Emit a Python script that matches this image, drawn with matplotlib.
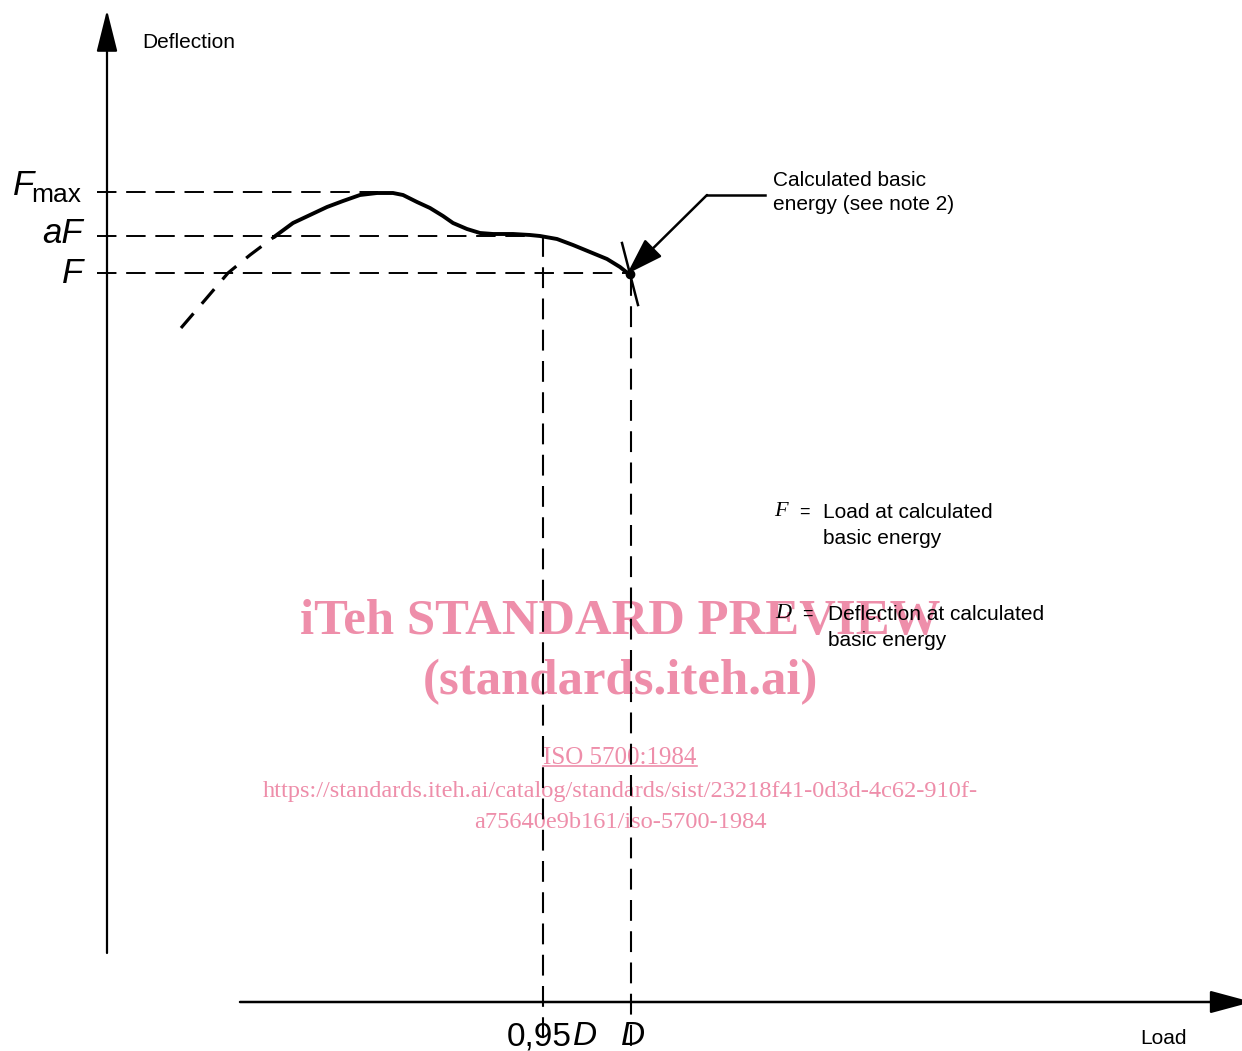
import matplotlib
matplotlib.use("Agg")
import matplotlib.pyplot as plt

# coordinates (x to the right, y downwards, in pixels)
dash_x = [181, 205, 228, 250, 274]
dash_y = [328, 300, 273, 255, 237]
curve_x = [274, 293, 310, 327, 343, 360, 377, 393, 403, 417, 430, 443, 453,
           467, 480, 493, 513, 530, 540, 557, 573, 590, 607, 620, 630]
curve_y = [237, 223, 215, 207, 201, 195, 193, 193, 195, 202, 208, 216, 223,
           229, 233, 234, 234, 235, 236, 239, 245, 252, 259, 267, 275]

# levels on the vertical axis: Fmax, aF, F
levels_y = [192, 236, 273]
levels_end = [378, 543, 631]
# positions on the horizontal axis: 0,95D and D
marks_x = [543, 631]
marks_top = [236, 275]

ink = "black"
pink = "#ee8eaa"
sans = "Liberation Sans"
serif = "Liberation Serif"

fig = plt.figure(figsize=(12.42, 10.51), dpi=100)
ax = fig.add_axes([0, 0, 1, 1])
ax.set_xlim(0, 1242)
ax.set_ylim(1051, 0)
ax.axis("off")

# watermark (under the drawing)
ax.text(620, 622, "iTeh STANDARD PREVIEW", color=pink, family=serif,
        weight="bold", fontsize=36.5, ha="center", va="center", zorder=0)
ax.text(620, 682, "(standards.iteh.ai)", color=pink, family=serif,
        weight="bold", fontsize=36.5, ha="center", va="center", zorder=0)
iso = ax.text(620, 758, "ISO 5700:1984", color=pink, family=serif,
              fontsize=18, ha="center", va="center", zorder=0)
ax.text(620, 791, "https://standards.iteh.ai/catalog/standards/sist/23218f41-0d3d-4c62-910f-",
        color=pink, family=serif, fontsize=17.6, ha="center", va="center", zorder=0)
ax.text(620, 823, "a75640e9b161/iso-5700-1984", color=pink, family=serif,
        fontsize=17.6, ha="center", va="center", zorder=0)
fig.canvas.draw()
bb = iso.get_window_extent().transformed(ax.transData.inverted())
ax.plot([bb.x0, bb.x1], [max(bb.y0, bb.y1) - 3] * 2, color=pink, lw=1.2, zorder=0)

# axes with arrows
ax.annotate("", xy=(107, 10), xytext=(107, 953), annotation_clip=False,
            arrowprops=dict(arrowstyle="-|>,head_length=2.6,head_width=0.65",
                            mutation_scale=10, lw=1.6, color=ink, shrinkA=0, shrinkB=0))
ax.annotate("", xy=(1252, 1002), xytext=(240, 1002), annotation_clip=False,
            arrowprops=dict(arrowstyle="-|>,head_length=2.6,head_width=0.7",
                            mutation_scale=10, lw=1.8, color=ink, shrinkA=0, shrinkB=0))

# dashed reference lines
for y, xe in zip(levels_y, levels_end):
    ax.plot([97, xe], [y, y], color=ink, lw=1.4, dashes=(10, 5))
for x, yt in zip(marks_x, marks_top):
    ax.plot([x, x], [yt, 1048], color=ink, lw=1.5, dashes=(10, 5))

# load-deflection curve
ax.plot(dash_x, dash_y, color=ink, lw=2.3, dashes=(6, 4), solid_capstyle="butt")
ax.plot(curve_x, curve_y, color=ink, lw=2.8, solid_joinstyle="round", solid_capstyle="round")

# mark at the calculated basic energy
ax.plot([622, 638], [243, 305], color=ink, lw=1.8)
ax.plot([630], [274], "o", color=ink, ms=6)

# callout arrow
ax.plot([765, 707], [195, 195], color=ink, lw=1.8)
ax.annotate("", xy=(627, 274), xytext=(707, 195),
            arrowprops=dict(arrowstyle="-|>,head_length=2.3,head_width=0.75",
                            mutation_scale=10, lw=1.8, color=ink, shrinkA=0, shrinkB=0))

# axis titles
ax.text(142, 43, "Deflection", family=sans, fontsize=15, ha="left", va="center")
ax.text(1140, 1038, "Load", family=sans, fontsize=15, ha="left", va="center")

# labels on the vertical axis
ax.text(34, 195, "F", family=sans, style="italic", fontsize=25, ha="right", va="baseline")
ax.text(31, 202, "max", family=sans, fontsize=19, ha="left", va="baseline")
ax.text(83, 243, "aF", family=sans, style="italic", fontsize=25, ha="right", va="baseline")
ax.text(83, 283, "F", family=sans, style="italic", fontsize=25, ha="right", va="baseline")

# labels on the horizontal axis
ax.text(572, 1045, "0,95", family=sans, fontsize=24, ha="right", va="baseline")
ax.text(573, 1045, "D", family=sans, style="italic", fontsize=24, ha="left", va="baseline")
ax.text(633, 1045, "D", family=sans, style="italic", fontsize=24, ha="center", va="baseline")

# notes
ax.text(773, 180, "Calculated basic", family=sans, fontsize=15, ha="left", va="center")
ax.text(773, 205, "energy (see note 2)", family=sans, fontsize=15, ha="left", va="center")

ax.text(774, 512, "F", family=serif, style="italic", fontsize=16, ha="left", va="center")
ax.text(799, 512, "=", family=sans, fontsize=13, ha="left", va="center")
ax.text(823, 512, "Load at calculated", family=sans, fontsize=15, ha="left", va="center")
ax.text(823, 538, "basic energy", family=sans, fontsize=15, ha="left", va="center")

ax.text(775, 614, "D", family=serif, style="italic", fontsize=16, ha="left", va="center")
ax.text(802, 614, "=", family=sans, fontsize=13, ha="left", va="center")
ax.text(828, 614, "Deflection at calculated", family=sans, fontsize=15, ha="left", va="center")
ax.text(828, 640, "basic energy", family=sans, fontsize=15, ha="left", va="center")

fig.savefig("out.png", dpi=100)
